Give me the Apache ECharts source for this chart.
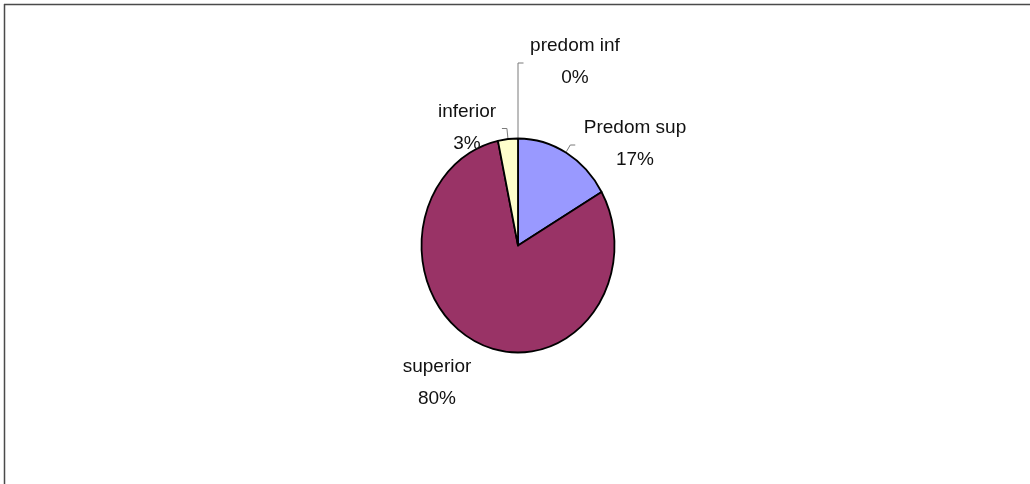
<!DOCTYPE html>
<html>
<head>
<meta charset="utf-8">
<title>Pie</title>
<script src="https://cdn.jsdelivr.net/npm/echarts@6/dist/echarts.min.js"></script>
<style>
  html, body { margin: 0; padding: 0; background: #fff; }
  #chart { width: 1030px; height: 484px; }
</style>
</head>
<body>
<div id="chart"></div>
<script>
// Slice names and counts (clockwise from 12 o'clock)
const categories = ['Predom sup', 'superior', 'inferior', 'predom inf'];
const counts = [5, 24, 1, 0];

// Fill colour for each slice
const sliceColors = ['#9999FF', '#993366', '#FFFFCC', '#FFFFCC'];

// Pie geometry (elliptical plot area)
const pieCenter = [518, 245.5];
const pieRadius = [96.5, 107];

// Where each two-line label sits, and how its leader line bends
const labelLayout = [
  { x: 635, y: 144, leader: true, elbowDx: 4, tail: 5 },
  { x: 437, y: 383, leader: false },
  { x: 467, y: 127.5, leader: true, elbowDx: -1, tail: -5 },
  { x: 575, y: 62, leader: true, elbowDx: 0, tail: 5.5 }
];

const total = counts.reduce((a, b) => a + b, 0);

function edgePoint(theta) {
  // theta: radians, clockwise from 12 o'clock
  return [
    pieCenter[0] + pieRadius[0] * Math.sin(theta),
    pieCenter[1] - pieRadius[1] * Math.cos(theta)
  ];
}

function renderSlice(params, api) {
  const i = params.dataIndex;
  const value = api.value(0);
  let before = 0;
  for (let k = 0; k < i; k++) before += counts[k];
  const a0 = before / total * Math.PI * 2;
  const a1 = (before + value) / total * Math.PI * 2;
  const mid = (a0 + a1) / 2;
  const children = [];

  if (value > 0) {
    const p0 = edgePoint(a0);
    const p1 = edgePoint(a1);
    const large = (a1 - a0) > Math.PI ? 1 : 0;
    const d = 'M' + pieCenter[0] + ' ' + pieCenter[1] +
      ' L' + p0[0] + ' ' + p0[1] +
      ' A' + pieRadius[0] + ' ' + pieRadius[1] + ' 0 ' + large + ' 1 ' + p1[0] + ' ' + p1[1] + ' Z';
    children.push({
      type: 'path',
      shape: { pathData: d },
      style: { fill: sliceColors[i], stroke: '#000', lineWidth: 1.8, lineJoin: 'round' }
    });
  }

  const lay = labelLayout[i];
  if (lay.leader) {
    const s = edgePoint(mid);
    const elbow = [s[0] + lay.elbowDx, lay.y + 1];
    const end = [elbow[0] + lay.tail, lay.y + 1];
    children.push({
      type: 'polyline',
      shape: { points: [[s[0], s[1] - 1], elbow, end] },
      style: { stroke: '#7a7a7a', lineWidth: 1, fill: null },
      z2: 5
    });
  }

  const pct = Math.round(value / total * 100) + '%';
  children.push({
    type: 'text',
    x: lay.x,
    y: lay.y,
    style: {
      text: categories[i] + '\n' + pct,
      align: 'center',
      verticalAlign: 'middle',
      lineHeight: 32,
      font: '19px "Liberation Sans", Arial, sans-serif',
      fill: '#111'
    },
    z2: 10
  });

  return { type: 'group', children: children };
}

const chart = echarts.init(document.getElementById('chart'), null, { renderer: 'canvas' });
chart.setOption({
  backgroundColor: '#ffffff',
  animation: false,
  graphic: [
    { type: 'line', shape: { x1: 4, y1: 4.5, x2: 1030, y2: 4.5 }, style: { stroke: '#4a4a4a', lineWidth: 1.5 } },
    { type: 'line', shape: { x1: 4.5, y1: 4, x2: 4.5, y2: 484 }, style: { stroke: '#4a4a4a', lineWidth: 1.5 } }
  ],
  series: [{
    type: 'custom',
    coordinateSystem: 'none',
    renderItem: renderSlice,
    data: counts.map((v, i) => ({ name: categories[i], value: [v] }))
  }]
});
</script>
</body>
</html>
